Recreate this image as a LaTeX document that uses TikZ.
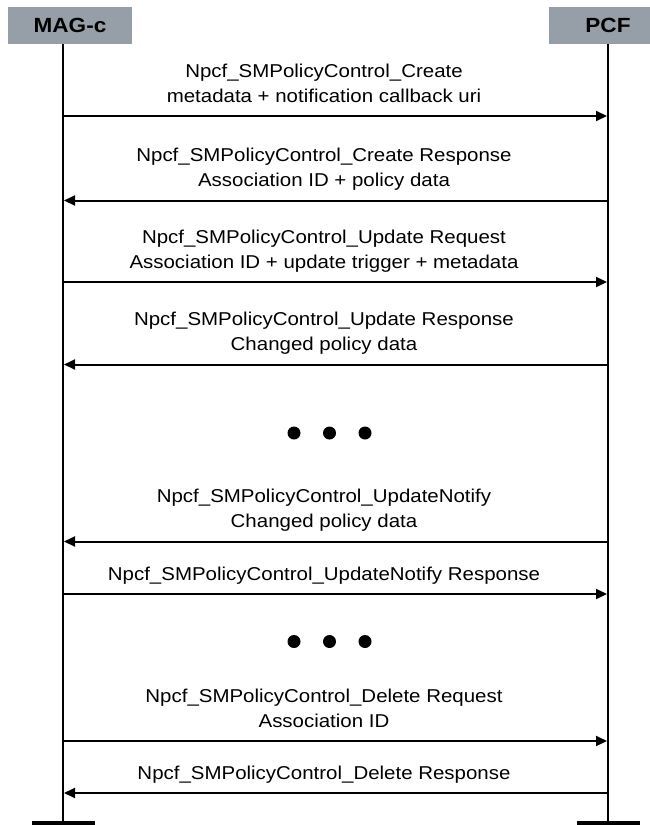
\documentclass[tikz,border=0pt]{standalone}
\usepackage{fontspec}
\setmainfont{Liberation Sans}[FakeStretch=1.1]
\usetikzlibrary{arrows.meta,positioning}
\definecolor{headgray}{RGB}{150,158,168}

\begin{document}
\begin{tikzpicture}[
	x = 1pt, y = -1pt,
	font = \fontsize{18.6}{25}\selectfont,
	entity/.style = {fill=headgray, minimum width=124pt, minimum height=37pt,
		inner sep=0pt, font=\fontsize{20.5}{22}\selectfont\bfseries},
	lifeline/.style = {line width=2pt},
	foot/.style = {line width=4pt},
	msg/.style = {line width=2pt, shorten >=1pt,
		-{Triangle[length=11pt, width=10pt]}},
	msgtext/.style = {align=center, inner sep=0pt, text depth=0pt,
		above=13pt, xshift=-11.5pt},
	dot/.style = {circle, fill=black, minimum size=13pt, inner sep=0pt}
	]
	\path [use as bounding box, clip] (0,0) rectangle (650,825);
	% entities
	\node [entity] (MAG) at (70,25.5) {MAG-c};
	\node [entity] (PCF) at (611,25.5) {\hspace*{-6pt}PCF};
	\coordinate (magEnd) at (63,823);
	\coordinate (pcfEnd) at (608,823);
	\draw [lifeline] (MAG.south -| magEnd) -- (magEnd);
	\draw [lifeline] (PCF.south -| pcfEnd) -- (pcfEnd);
	\draw [foot] ([xshift=-31.5pt]magEnd) -- ([xshift=31.5pt]magEnd);
	\draw [foot] ([xshift=-31.5pt]pcfEnd) -- ([xshift=31.5pt]pcfEnd);
	% message points
	\coordinate (m1) at (63,116);   \coordinate (p1) at (608,116);
	\coordinate (m2) at (63,200.5); \coordinate (p2) at (608,200.5);
	\coordinate (m3) at (63,282);   \coordinate (p3) at (608,282);
	\coordinate (m4) at (63,364.5); \coordinate (p4) at (608,364.5);
	\coordinate (m5) at (63,541.5); \coordinate (p5) at (608,541.5);
	\coordinate (m6) at (63,594);   \coordinate (p6) at (608,594);
	\coordinate (m7) at (63,741);   \coordinate (p7) at (608,741);
	\coordinate (m8) at (63,793);   \coordinate (p8) at (608,793);
	% messages
	\draw [msg] (m1) -- node [msgtext] {Npcf\_SMPolicyControl\_Create\\metadata + notification callback uri} (p1);
	\draw [msg] (p2) -- node [msgtext] {Npcf\_SMPolicyControl\_Create Response\\Association ID + policy data} (m2);
	\draw [msg] (m3) -- node [msgtext] {Npcf\_SMPolicyControl\_Update Request\\Association ID + update trigger + metadata} (p3);
	\draw [msg] (p4) -- node [msgtext] {Npcf\_SMPolicyControl\_Update Response\\Changed policy data} (m4);
	\draw [msg] (p5) -- node [msgtext] {Npcf\_SMPolicyControl\_UpdateNotify\\Changed policy data} (m5);
	\draw [msg] (m6) -- node [msgtext] {Npcf\_SMPolicyControl\_UpdateNotify Response} (p6);
	\draw [msg] (m7) -- node [msgtext] {Npcf\_SMPolicyControl\_Delete Request\\Association ID} (p7);
	\draw [msg] (p8) -- node [msgtext] {Npcf\_SMPolicyControl\_Delete Response} (m8);
	% skipped steps
	\node [dot] (d1a) at (294,433) {};
	\node [dot] (d1b) at (329.5,433) {};
	\node [dot] (d1c) at (365,433) {};
	\node [dot] (d2a) at (294,641.5) {};
	\node [dot] (d2b) at (329.5,641.5) {};
	\node [dot] (d2c) at (365,641.5) {};
\end{tikzpicture}
\end{document}
